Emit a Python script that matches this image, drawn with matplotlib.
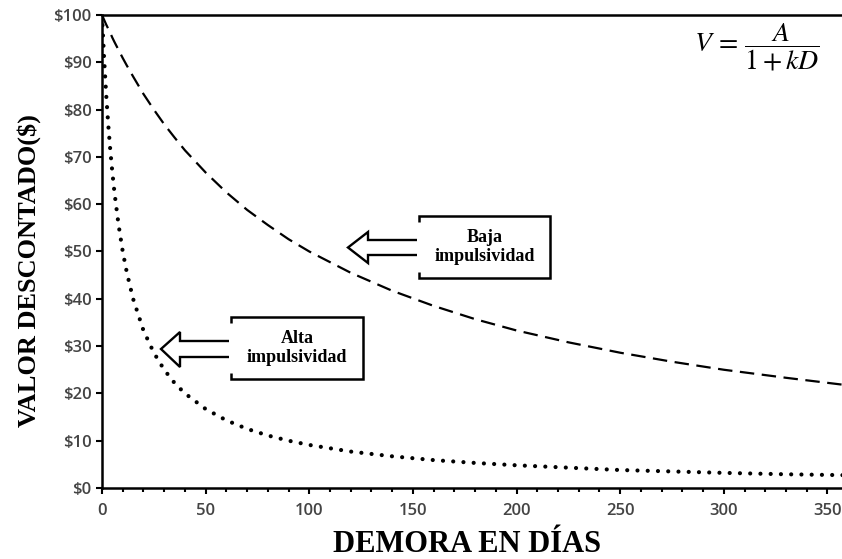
import matplotlib.pyplot as plt
from matplotlib.path import Path
from matplotlib.patches import PathPatch

# demora en dias y valor descontado de cada curva
dias = [0, 1, 2, 3, 4, 5, 6, 8, 10, 12, 15, 20, 25, 30, 35, 40, 50, 60, 70,
        80, 90, 100, 120, 140, 160, 180, 200, 225, 250, 275, 300, 330, 360]
baja_impulsividad = [100, 99, 98, 97.1, 96.2, 95.2, 94.3, 92.6, 90.9, 89.3,
                     87, 83.3, 80, 76.9, 74.1, 71.4, 66.7, 62.5, 58.8, 55.6,
                     52.6, 50, 45.5, 41.7, 38.5, 35.7, 33.3, 30.8, 28.6, 26.7,
                     25, 23.3, 21.7]
alta_impulsividad = [100, 90.9, 83.3, 76.9, 71.4, 66.7, 62.5, 55.6, 50, 45.5,
                     40, 33.3, 28.6, 25, 22.2, 20, 16.7, 14.3, 12.5, 11.1, 10,
                     9.1, 7.7, 6.7, 5.9, 5.3, 4.8, 4.3, 3.8, 3.5, 3.2, 2.9, 2.7]

yticks = [0, 10, 20, 30, 40, 50, 60, 70, 80, 90, 100]
ytick_labels = ["$0", "$10", "$20", "$30", "$40", "$50", "$60", "$70",
                "$80", "$90", "$100"]
xticks = [0, 50, 100, 150, 200, 250, 300, 350]

W, H = 842, 559
fig = plt.figure(figsize=(W / 100, H / 100), dpi=100)
ax = fig.add_axes([102 / W, 71 / H, 1 - 102 / W, (488 - 15) / H])

ax.plot(dias, baja_impulsividad, color="black", lw=1.6,
        linestyle=(0, (6.5, 3.4)))
ax.plot(dias, alta_impulsividad, color="black", lw=3.0,
        linestyle=(0, (0.01, 2.45)), dash_capstyle="round")

ax.set_xlim(0, 357)
ax.set_ylim(0, 100)
ax.set_xticks(xticks)
ax.set_xticks(range(0, 360, 10), minor=True)
ax.set_yticks(yticks)
ax.set_yticklabels(ytick_labels)

for s in ["left", "bottom", "top"]:
    ax.spines[s].set_linewidth(1.8)
ax.spines["right"].set_visible(False)
ax.tick_params(axis="both", which="major", width=1.5, length=4,
               labelsize=12, labelcolor="#444444", color="black")
ax.tick_params(axis="x", which="major", pad=7)
ax.tick_params(axis="x", which="minor", width=1.5, length=3)
for lbl in ax.get_xticklabels() + ax.get_yticklabels():
    lbl.set_family("Open Sans")
    lbl.set_weight("semibold")

fig.text(467 / W, 1 - 544 / H, "DEMORA EN DÍAS", family="Liberation Serif",
         weight="bold", fontsize=22, ha="center", va="center")
fig.text(29 / W, 1 - 271 / H, "VALOR DESCONTADO($)", family="Liberation Serif",
         weight="bold", fontsize=19, ha="center", va="center", rotation=90)

plt.rcParams["mathtext.fontset"] = "stix"
fig.text(820 / W, 1 - 47 / H, r"$V\,=\,\dfrac{A}{1+kD}$", fontsize=20,
         ha="right", va="center")


def px(x, y):
    return (x / W, 1 - y / H)


def callout(left, right, top, bottom, shaft_top, shaft_bot,
            head_x, head_top, head_bot, tip, texto):
    cy = (shaft_top + shaft_bot) / 2
    # caja con el lado izquierdo abierto
    caja = [px(left, top + 6), px(left, top), px(right, top),
            px(right, bottom), px(left, bottom), px(left, bottom - 6)]
    fig.patches.append(PathPatch(Path(caja), fill=False, lw=1.8,
                                 edgecolor="black",
                                 transform=fig.transFigure))
    # flecha hueca
    flecha = [px(left - 2, shaft_top), px(head_x, shaft_top),
              px(head_x, head_top), px(tip, cy), px(head_x, head_bot),
              px(head_x, shaft_bot), px(left - 2, shaft_bot)]
    fig.patches.append(PathPatch(Path(flecha), fill=False, lw=1.7,
                                 edgecolor="black", joinstyle="miter",
                                 transform=fig.transFigure))
    fig.text((left + right) / 2 / W, 1 - (top + bottom) / 2 / H, texto,
             family="Liberation Serif", weight="bold", fontsize=13,
             ha="center", va="center", linespacing=1.1)


callout(419, 550, 216, 278, 240, 255, 368, 232, 263, 348,
        "Baja\nimpulsividad")
callout(231, 363, 317, 379, 341, 357, 180, 332, 367, 161,
        "Alta\nimpulsividad")

fig.savefig("out.png", dpi=100)
